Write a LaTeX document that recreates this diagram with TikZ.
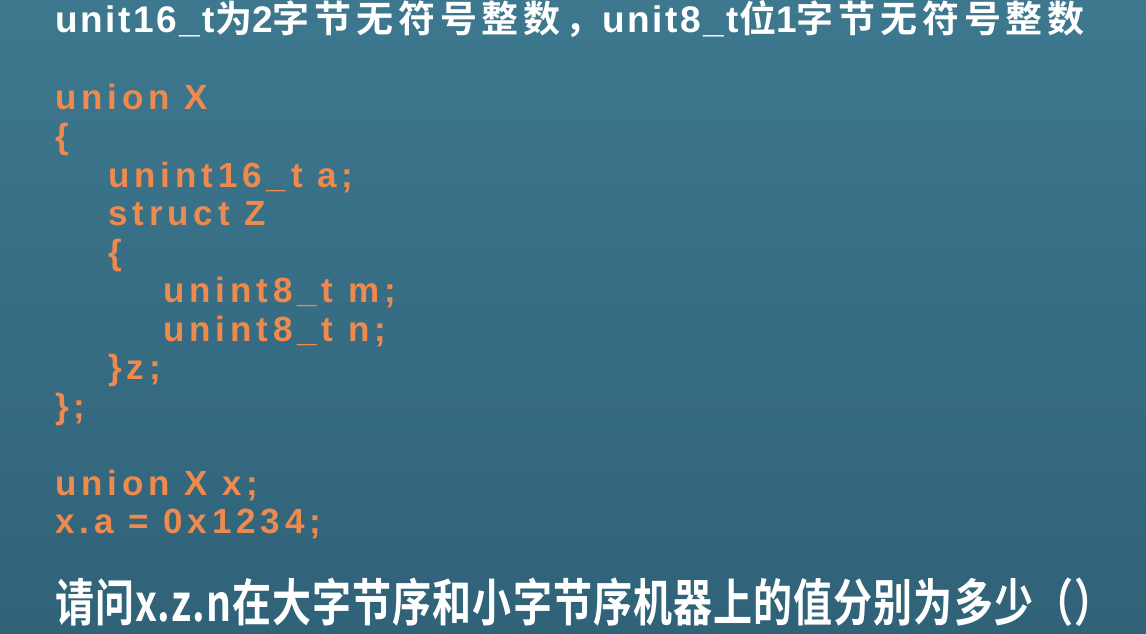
\documentclass[tikz,border=0pt]{standalone}
\usepackage{fontspec}
\setmainfont{Liberation Sans}
\newfontfamily\codefont{Liberation Sans}[UprightFont={* Bold}, LetterSpace=14]
\newfontfamily\titlefont{Liberation Sans}[UprightFont={* Bold}, LetterSpace=7]
\newfontfamily\cjk{Noto Sans CJK SC Bold}[LetterSpace=13]
\newfontfamily\askfont{Noto Sans CJK SC Bold}[LetterSpace=2.8]
\usepackage{xcolor}
\definecolor{bgtop}{HTML}{3D788F}
\definecolor{bgmid}{HTML}{45839B}
\definecolor{bgbot}{HTML}{306278}
\definecolor{codeorange}{HTML}{EE8A4E}

\tikzset{
  code/.style={anchor=base west, inner sep=0pt, text=codeorange,
    font=\codefont\fontsize{35}{38}\selectfont},
  heading/.style={anchor=base west, inner sep=0pt, text=white,
    font=\fontsize{37}{40}\selectfont},
}

\begin{document}
\begin{tikzpicture}[x=1pt,y=-1pt]

% Background
\useasboundingbox (0,0) rectangle (1146,634);
\shade[top color=bgtop, middle color=bgmid, bottom color=bgbot] (0,0) rectangle (1146,634);

% Title line
\node[heading] (title) at (55,33) {{\titlefont unit16\_t}{\cjk 为}{\titlefont 2}{\cjk 字节无符号整数，}{\titlefont unit8\_t}{\cjk 位}{\titlefont 1}{\cjk 字节无符号整数}};

% Code
\node[code] (l1) at (55,110) {union X};
\node[code] (l2) at (55,148.5) {\{};
\node[code] (l3) at (108,187) {unint16\_t a;};
\node[code] (l4) at (108,225) {struct Z};
\node[code] (l5) at (108,264) {\{};
\node[code] (l6) at (163,302) {unint8\_t m;};
\node[code] (l7) at (163,341) {unint8\_t n;};
\node[code] (l8) at (108,379) {\}z;};
\node[code] (l9) at (55,418) {\};};
\node[code] (l10) at (55,495) {union X x;};
\node[code] (l11) at (55,533) {x.a = 0x1234;};

% Question
\node[heading, font=\askfont\fontsize{39}{42}\selectfont] (ask) at (55,621)
  {\scalebox{1}[1.3]{请问x.z.n在大字节序和小字节序机器上的值分别为多少（）}};

\end{tikzpicture}
\end{document}
